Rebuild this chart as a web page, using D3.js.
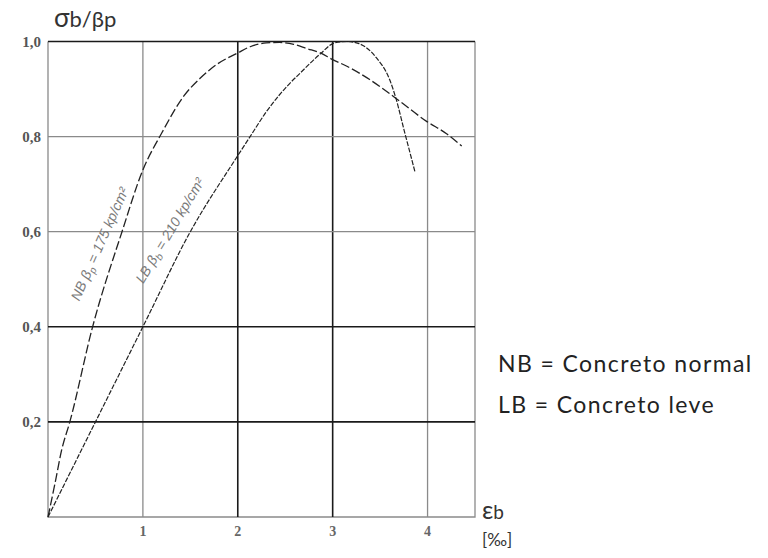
<!DOCTYPE html>
<html>
<head>
<meta charset="utf-8">
<script src="https://cdn.jsdelivr.net/npm/d3@7"></script>
<style>
  html, body { margin: 0; padding: 0; background: #fff; }
  svg { display: block; }
</style>
</head>
<body>
<svg id="chart" width="768" height="558"></svg>
<script>
// Stress–strain curves: strain εb [‰] vs. relative stress σb/βp
const nbStrain = [0, 0.074, 0.144, 0.23, 0.47, 0.78, 1.0, 1.2, 1.43, 1.6, 1.78, 2.0, 2.13, 2.3, 2.44, 2.59, 2.73, 2.87, 3.0, 3.15, 3.39, 3.5, 3.71, 3.99, 4.2, 4.36];
const nbStress = [0, 0.071, 0.141, 0.2, 0.4, 0.6, 0.73, 0.808, 0.885, 0.922, 0.952, 0.976, 0.989, 0.997, 0.998, 0.994, 0.985, 0.976, 0.962, 0.948, 0.92, 0.905, 0.874, 0.832, 0.806, 0.78];

const lbStrain = [0, 0.5, 1.0, 1.5, 2.0, 2.13, 2.3, 2.44, 2.52, 2.66, 2.87, 3.02, 3.15, 3.27, 3.46, 3.6, 3.66, 3.76, 3.87];
const lbStress = [0, 0.2, 0.4, 0.6, 0.76, 0.8, 0.852, 0.888, 0.906, 0.934, 0.974, 0.997, 1.0, 0.996, 0.966, 0.92, 0.885, 0.808, 0.724];

const xTicks = [1, 2, 3, 4];
const xTickLabels = ["1", "2", "3", "4"];
const yTicks = [0.2, 0.4, 0.6, 0.8, 1.0];
const yTickLabels = ["0,2", "0,4", "0,6", "0,8", "1,0"];
// grid lines drawn heavier
const xStrong = [2, 3];
const yStrong = [0.2, 0.4, 1.0];

const legendLines = ["NB = Concreto normal", "LB = Concreto leve"];

const svg = d3.select("#chart");
const x = d3.scaleLinear().domain([0, 4.5]).range([48, 475]);
const y = d3.scaleLinear().domain([0, 1]).range([517, 41.5]);

const grid = svg.append("g");
// light frame (left, bottom, right)
grid.append("path")
  .attr("d", `M${x(0)},${y(1)} V${y(0)} H${x(4.5)} V${y(1)}`)
  .attr("fill", "none").attr("stroke", "#8a8a8a").attr("stroke-width", 1.3);

xTicks.forEach(t => {
  const strong = xStrong.includes(t);
  grid.append("line")
    .attr("x1", x(t)).attr("x2", x(t)).attr("y1", y(0)).attr("y2", y(1))
    .attr("stroke", strong ? "#1a1a1a" : "#8a8a8a")
    .attr("stroke-width", strong ? 1.6 : 1.3);
});
yTicks.forEach(t => {
  const strong = yStrong.includes(t);
  grid.append("line")
    .attr("x1", x(0)).attr("x2", x(4.5)).attr("y1", y(t)).attr("y2", y(t))
    .attr("stroke", strong ? "#1a1a1a" : "#8a8a8a")
    .attr("stroke-width", strong ? 1.6 : 1.3);
});

// tick labels
svg.append("g").selectAll("text").data(yTicks).join("text")
  .attr("x", 41).attr("y", d => y(d) + 5)
  .attr("text-anchor", "end")
  .attr("font-family", "'Liberation Serif', serif")
  .attr("font-weight", "bold")
  .attr("font-size", 15)
  .attr("fill", "#555")
  .text((d, i) => yTickLabels[i]);

svg.append("g").selectAll("text").data(xTicks).join("text")
  .attr("x", d => x(d)).attr("y", 536)
  .attr("text-anchor", "middle")
  .attr("font-family", "'Liberation Serif', serif")
  .attr("font-weight", "bold")
  .attr("font-size", 14)
  .attr("fill", "#666")
  .text((d, i) => xTickLabels[i]);

// curves
const line = d3.line().x(d => x(d[0])).y(d => y(d[1])).curve(d3.curveMonotoneX);
const nbPts = nbStrain.map((v, i) => [v, nbStress[i]]);
const lbPts = lbStrain.map((v, i) => [v, lbStress[i]]);

svg.append("path").datum(nbPts)
  .attr("d", line)
  .attr("fill", "none").attr("stroke", "#222").attr("stroke-width", 1.3)
  .attr("stroke-dasharray", "9,3");
svg.append("path").datum(lbPts)
  .attr("d", line)
  .attr("fill", "none").attr("stroke", "#222").attr("stroke-width", 1.2)
  .attr("stroke-dasharray", "5,1.5");

// curve annotations
function curveLabel(cx, cy, angle, name, sub, rest) {
  const t = svg.append("text")
    .attr("transform", `translate(${cx},${cy}) rotate(${angle})`)
    .attr("text-anchor", "middle")
    .attr("font-family", "'Liberation Sans', sans-serif")
    .attr("font-style", "italic")
    .attr("font-size", 14)
    .attr("fill", "#7a7a7a");
  t.append("tspan").text(name + " β");
  t.append("tspan").attr("font-size", 10).attr("dy", 3).text(sub);
  t.append("tspan").attr("dy", -3).text(rest);
}
curveLabel(104, 246, -66, "NB", "p", " = 175 kp/cm²");
curveLabel(174, 233, -59, "LB", "b", " = 210 kp/cm²");

// axis titles
const sans = "Lato, 'Open Sans', sans-serif";
const yt = svg.append("text").attr("x", 54).attr("y", 27)
  .attr("font-family", sans).attr("font-size", 22).attr("fill", "#333");
yt.append("tspan").attr("font-size", 26).text("σ");
yt.append("tspan").text("b/βp");

const xt = svg.append("text").attr("x", 482).attr("y", 519)
  .attr("font-family", sans).attr("font-size", 19).attr("fill", "#333");
xt.append("tspan").attr("font-size", 25).text("ε");
xt.append("tspan").text("b");
svg.append("text").attr("x", 482).attr("y", 546)
  .attr("font-family", sans).attr("font-size", 17).attr("fill", "#333")
  .text("[‰]");

// legend
svg.append("g").selectAll("text").data(legendLines).join("text")
  .attr("x", 498).attr("y", (d, i) => 372 + i * 41)
  .attr("font-family", sans).attr("font-size", 23).attr("fill", "#222")
  .attr("letter-spacing", 1.4)
  .text(d => d);
</script>
</body>
</html>
